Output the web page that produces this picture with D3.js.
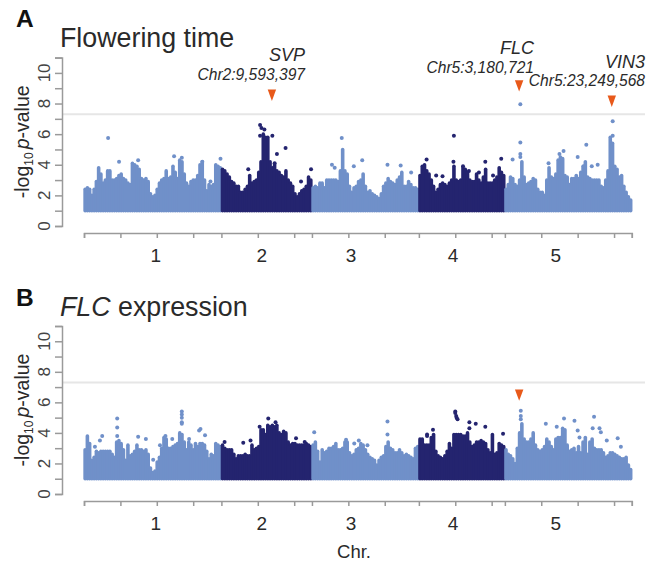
<!DOCTYPE html>
<html>
<head>
<meta charset="utf-8">
<script src="https://cdn.jsdelivr.net/npm/d3@7"></script>
<style>
  body { margin: 0; background: white; }
  text { font-family: "Liberation Sans", Arial, sans-serif; fill: #2a2a2a; }
</style>
</head>
<body>
<script>

// chromosome lengths in Mb as drawn, and where the chromosome numbers sit
var chrNames = ["1", "2", "3", "4", "5"];
var chrLengths = [30.2, 19.9, 23.5, 18.9, 27.9];
var chrLabelAt = [15.8, 39.1, 58.7, 81.1, 103.7];
var tickEvery = 8;
var threshold = 7.3;
var baseline = 1;

// panel A, top of the point cloud along each chromosome
var flowChr1 = [2.4,2.5,2.4,2.0,2.4,2.9,3.8,3.4,2.8,3.0,3.6,3.6,3.0,3.0,3.1,3.3,3.4,3.1,3.0,2.8,2.7,4.1,4.0,3.9,3.7,3.1,3.0,3.1,2.9,2.1,1.9,2.0,2.4,2.8,3.0,3.1,3.6,3.1,3.2,3.9,3.5,3.1,4.3,4.2,3.4,2.8,2.6,2.9,3.0,3.0,3.3,4.0,4.2,3.0,2.3,2.7,2.6,2.7,4.0,3.9,3.8];
var flowChr2 = [3.7,3.6,3.4,3.2,2.9,2.8,2.6,2.6,2.2,2.2,2.4,2.6,3.3,2.8,2.9,3.0,3.5,4.2,6.0,5.8,5.8,4.2,3.8,4.0,3.6,3.5,3.3,3.2,3.6,3.0,2.8,2.6,2.1,1.9,2.1,2.3,2.4,2.6,3.2,3.0];
var flowChr3 = [2.5,2.6,2.5,2.8,2.8,2.5,3.0,3.0,3.0,3.0,3.0,2.9,3.6,5.0,3.6,3.4,2.6,2.2,2.5,2.6,2.9,3.0,3.4,2.6,2.2,2.3,2.1,2.0,1.9,1.8,2.1,2.6,2.8,3.1,2.9,2.8,2.7,3.0,3.2,3.5,2.6,2.6,2.9,2.7,2.5,2.5,2.4];
var flowChr4 = [3.3,3.9,4.0,3.6,3.4,3.0,2.6,2.2,2.4,2.7,2.8,2.7,2.6,2.8,3.0,3.9,3.0,2.9,3.0,3.8,3.7,3.5,3.0,2.9,2.9,3.4,3.0,2.8,3.2,3.7,2.8,2.8,2.8,3.0,3.2,3.8,3.5,3.3];
var flowChr5 = [2.4,2.7,3.2,3.1,2.7,2.6,3.0,4.2,3.2,2.7,2.8,2.9,3.1,3.0,2.4,2.2,2.2,2.0,3.0,3.8,3.2,3.1,3.4,4.3,4.5,4.4,3.3,3.2,2.7,3.1,3.1,3.3,3.1,3.5,3.9,4.2,3.2,3.1,3.0,3.0,3.0,3.0,2.6,2.5,3.0,3.6,5.8,5.4,3.9,3.7,3.2,3.3,2.6,2.2,1.9,1.7];

// panel A, single points above the cloud: chromosome, Mb, value
var flowPoints = [
  [0,5.3,5.75],[0,7.7,4.2],[0,11.9,4.3],[0,19.8,4.55],[0,21.5,4.45],[0,26,4.2],[0,30,4.4],[0,27.8,2.9],
  [1,8.5,6.6],[1,8.8,6.4],[1,9.45,6.3],[1,8.5,5.9],[1,11.2,5.9],[1,14.1,5.1],[1,12.2,4.7],[1,11.7,4.1],[1,5.9,3.7],[1,17.5,2.9],[1,19.7,3.7],
  [2,6.55,5.75],[2,9.2,3.9],[2,11.05,4.3],[2,16.6,4.0],[2,19.5,3.95],[2,21.8,3.5],[2,4.4,4.0],[2,5.0,3.8],
  [3,7.7,5.9],[3,1.7,4.35],[3,3.8,3.3],[3,5.2,3.25],[3,7.6,4.2],[3,14.6,4.2],[3,18.1,4.4],[3,16.3,3.3],[3,9.7,3.9],[3,11,3.6],[3,13.2,3.5],
  [4,1.7,4.35],[4,3.4,7.95],[4,3.4,5.45],[4,3.4,4.7],[4,3.4,4.5],[4,9.6,4.1],[4,12.9,4.9],[4,12,4.7],[4,16,4.5],[4,17.9,5.3],[4,17.4,3.9],[4,20.4,4.0],[4,23.7,6.85],[4,23.7,5.9],[4,19.1,3.9]
];

// panel B
var exprChr1 = [2.9,3.8,3.3,2.2,2.4,2.8,2.7,2.8,2.8,2.8,2.8,2.8,2.6,2.4,3.4,3.5,3.3,2.9,2.2,3.2,2.5,2.6,2.8,3.2,2.9,2.9,2.8,2.9,2.6,1.7,1.4,1.5,2.1,2.4,3.0,3.7,3.6,3.0,3.0,3.1,3.2,3.3,4.0,3.9,3.4,2.9,3.4,3.2,2.9,3.3,3.1,3.3,3.3,3.2,2.8,2.3,2.6,2.5,3.3,3.2,3.1];
var exprChr2 = [3.2,3.0,2.9,2.9,2.9,2.6,2.3,2.5,2.5,2.5,2.6,2.5,2.5,3.2,2.9,3.0,3.1,4.2,4.2,3.9,4.5,4.4,4.5,4.4,4.5,4.0,3.9,4.1,4.0,3.4,3.2,3.3,3.3,3.2,3.2,3.2,3.2,3.3,3.2,3.1];
var exprChr3 = [3.2,3.4,2.8,2.1,2.9,2.7,2.8,3.0,3.0,3.1,3.3,2.9,2.9,3.0,3.4,3.4,2.7,2.5,2.6,2.9,3.0,3.3,3.2,2.9,2.6,2.4,2.3,2.2,1.9,2.2,2.4,2.5,3.1,3.4,3.0,2.9,2.7,2.7,2.9,2.7,2.5,2.6,2.5,2.4,2.3,3.0,3.1];
var exprChr4 = [3.6,3.6,3.2,3.2,3.2,3.7,3.9,2.8,2.5,2.4,2.3,2.5,2.8,3.3,3.0,3.9,3.9,3.9,3.9,3.8,3.8,4.0,3.4,3.1,3.2,3.4,3.4,3.5,3.4,3.3,2.9,2.7,3.9,2.6,2.7,3.3,3.2,3.1];
var exprChr5 = [2.9,2.6,2.5,2.3,2.0,3.0,4.0,4.6,3.6,3.4,3.4,3.6,4.0,3.2,2.9,2.8,2.9,3.1,3.6,3.4,3.1,2.9,3.6,3.7,3.7,4.3,4.2,3.2,2.8,2.9,3.0,2.7,3.1,2.7,3.4,3.7,2.6,3.4,3.6,3.0,2.9,2.9,2.9,2.7,2.4,2.5,2.7,2.7,2.6,2.5,2.4,2.3,2.3,2.4,1.9,1.6];

var exprPoints = [
  [0,7.3,4.95],[0,7.3,4.35],[0,7.3,3.8],[0,4,3.8],[0,3.5,3.5],[0,2.4,3.1],[0,11.9,3.75],[0,13.6,3.6],[0,15.2,2.25],[0,16.7,3.2],[0,17.9,3.8],[0,19.4,3.6],
  [0,21.5,5.4],[0,21.5,5.2],[0,21.5,5.0],[0,21.5,4.7],[0,21.5,4.6],[0,25.3,4.15],[0,25.6,4.25],[0,26.6,3.85],[0,23.1,3.6],
  [1,10.3,4.95],[1,11.9,4.7],[1,8.4,4.4],[1,16.4,3.65],[1,4.8,3.35],[1,6.4,3.5],[1,0.7,3.4],[1,18.3,3.4],
  [2,0.5,4.05],[2,16.6,4.75],[2,16.6,3.9],[2,10.3,3.5],[2,9.3,3.3],[2,12.2,3.2],[2,7.5,3.55],
  [3,8,5.4],[3,8,5.3],[3,8.2,5.1],[3,8.3,5.0],[3,8.5,4.9],[3,11.1,4.7],[3,11.1,4.3],[3,12.5,4.6],[3,14.6,4.4],[3,18.5,3.95],[3,1.8,3.9],[3,1.8,3.8],[3,3.1,4.2],
  [4,3.5,5.45],[4,3.5,5.1],[4,3.5,4.9],[4,9,4.6],[4,11.4,4.4],[4,13,4.95],[4,15.3,4.8],[4,19.6,5.05],[4,16,4.15],[4,19.3,4.3],[4,20.8,4.3],[4,21.1,4.05],[4,22.4,3.5],[4,24.8,3.65],[4,25.5,3.1],[4,16.4,3.7]
];

// orange markers: chromosome, Mb, height on the value axis
var flowMarkers = [[1,11.1,8.66],[4,3.14,9.28],[4,23.5,8.27]];
var exprMarkers = [[4,3.14,6.6]];

var yTicks = [0,1,2,3,4,5,6,7,8,9,10,11];
var yLabelled = [0,2,4,6,8,10];

var lightBlue = "#7090c9";
var darkBlue = "#24246f";
var orange = "#e8591a";
var axisGrey = "#9a9a9a";

var svg = d3.select("body").append("svg")
  .attr("width", 659)
  .attr("height", 561);

// start of each chromosome on the shared x axis
var chrStart = [];
chrLengths.reduce(function(sum, len, i) { chrStart[i] = sum; return sum + len; }, 0);

var x = d3.scaleLinear()
  .domain([0, d3.sum(chrLengths)])
  .range([84, 631.8]);

var xTicks = [];
chrLengths.forEach(function(len, i) {
  for (var m = 0; m < len - 1; m += tickEvery) xTicks.push(chrStart[i] + m);
  if (i == chrLengths.length - 1) xTicks.push(chrStart[i] + len);
});

function drawPanel(opts)
{
  var y = d3.scaleLinear()
    .domain([0, 11])
    .range([opts.y0, opts.y11]);

  // threshold line
  svg.append("line")
    .attr("x1", 62).attr("x2", 645)
    .attr("y1", y(threshold)).attr("y2", y(threshold))
    .attr("stroke", "#e6e6e6")
    .attr("stroke-width", 1.8);

  // point cloud, one stem per sample so the dense part reads solid
  opts.chrs.forEach(function(values, c) {
    var colour = c % 2 == 0 ? lightBlue : darkBlue;
    var step = chrLengths[c] / values.length;
    svg.append("g").selectAll("line")
      .data(values)
      .enter().append("line")
      .attr("x1", function(d, i) { return x(chrStart[c] + (i + 0.5) * step); })
      .attr("x2", function(d, i) { return x(chrStart[c] + (i + 0.5) * step); })
      .attr("y1", y(baseline))
      .attr("y2", function(d) { return y(d); })
      .attr("stroke", colour)
      .attr("stroke-width", 3.6)
      .attr("stroke-linecap", "round");
  });

  svg.append("g").selectAll("circle")
    .data(opts.points)
    .enter().append("circle")
    .attr("cx", function(d) { return x(chrStart[d[0]] + d[1]); })
    .attr("cy", function(d) { return y(d[2]); })
    .attr("r", 2)
    .attr("fill", function(d) { return d[0] % 2 == 0 ? lightBlue : darkBlue; });

  // y axis
  var yAxis = svg.append("g")
    .attr("transform", "translate(62,0)")
    .call(d3.axisLeft(y).tickValues(yTicks).tickSize(7).tickFormat(""));
  yAxis.selectAll("path, line").attr("stroke", axisGrey).attr("stroke-width", 1.5);

  svg.append("g").selectAll("text")
    .data(yLabelled)
    .enter().append("text")
    .attr("transform", function(d) { return "translate(50," + y(d) + ") rotate(-90)"; })
    .attr("text-anchor", "middle")
    .style("font-size", "17px")
    .style("fill", "#444")
    .text(function(d) { return d; });

  // y label with the subscript and italic p
  var yLabel = svg.append("text")
    .attr("transform", "translate(29," + (opts.y0 + opts.y11) / 2 + ") rotate(-90)")
    .attr("text-anchor", "middle")
    .style("font-size", "19.5px");
  yLabel.append("tspan").text("-log");
  yLabel.append("tspan").attr("dy", 4).style("font-size", "12px").text("10");
  yLabel.append("tspan").attr("dy", -4).attr("dx", 3).style("font-style", "italic").text("p");
  yLabel.append("tspan").text("-value");

  // x axis
  var xAxis = svg.append("g")
    .attr("transform", "translate(0," + opts.xAxisY + ")")
    .call(d3.axisBottom(x).tickValues(xTicks).tickSize(5).tickFormat(""));
  xAxis.selectAll("path, line").attr("stroke", axisGrey).attr("stroke-width", 1.5);

  svg.append("g").selectAll("text")
    .data(chrNames)
    .enter().append("text")
    .attr("x", function(d, i) { return x(chrLabelAt[i]); })
    .attr("y", opts.xAxisY + 29)
    .attr("text-anchor", "middle")
    .style("font-size", "19px")
    .text(function(d) { return d; });

  // markers, narrower and taller than the stock d3 triangle
  var tri = d3.symbol().type(d3.symbolTriangle).size(48);
  svg.append("g").selectAll("path")
    .data(opts.markers)
    .enter().append("path")
    .attr("d", tri)
    .attr("fill", orange)
    .attr("transform", function(d) {
      return "translate(" + x(chrStart[d[0]] + d[1]) + "," + y(d[2]) + ") rotate(180) scale(0.8,1.25)";
    });
}

drawPanel({
  chrs: [flowChr1, flowChr2, flowChr3, flowChr4, flowChr5],
  points: flowPoints,
  markers: flowMarkers,
  y0: 226, y11: 57.6,
  xAxisY: 233
});

drawPanel({
  chrs: [exprChr1, exprChr2, exprChr3, exprChr4, exprChr5],
  points: exprPoints,
  markers: exprMarkers,
  y0: 494, y11: 326,
  xAxisY: 501
});

// panel letters and titles
function label(txt, px, py, size, opts)
{
  opts = opts || {};
  return svg.append("text")
    .attr("x", px).attr("y", py)
    .attr("text-anchor", opts.anchor || "start")
    .style("font-size", size + "px")
    .style("font-weight", opts.bold ? "bold" : "normal")
    .style("font-style", opts.italic ? "italic" : "normal")
    .style("fill", opts.fill || null)
    .text(txt);
}

label("A", 16, 27, 24.5, {bold: true, fill: "#111"});
label("B", 16, 306, 24.5, {bold: true, fill: "#111"});
label("Flowering time", 60, 47, 26.8);

var bTitle = svg.append("text").attr("x", 60).attr("y", 316).style("font-size", "26.8px");
bTitle.append("tspan").style("font-style", "italic").text("FLC");
bTitle.append("tspan").text(" expression");

label("SVP", 305, 61, 18, {anchor: "end", italic: true});
label("Chr2:9,593,397", 305, 80, 15.6, {anchor: "end", italic: true});
label("FLC", 534, 54, 18, {anchor: "end", italic: true});
label("Chr5:3,180,721", 534, 73, 15.6, {anchor: "end", italic: true});
label("VIN3", 645, 68, 18, {anchor: "end", italic: true});
label("Chr5:23,249,568", 645, 86, 15.6, {anchor: "end", italic: true});
label("Chr.", 354, 558, 18.5, {anchor: "middle"});

</script>
</body>
</html>
